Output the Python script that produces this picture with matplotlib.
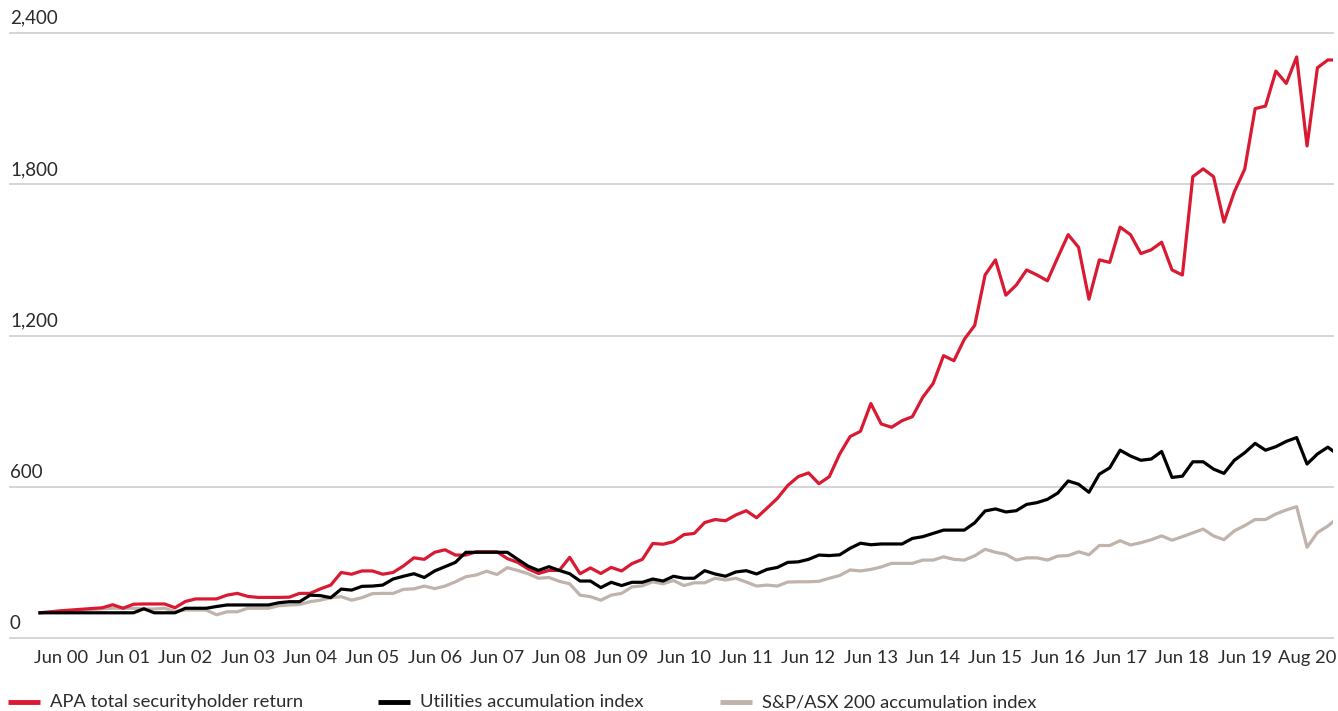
import matplotlib
matplotlib.use("Agg")
import matplotlib.pyplot as plt
from matplotlib.lines import Line2D
import numpy as np

# sample positions (every second period of the 250-period series, plus the last one)
periods = list(range(0, 249, 2)) + [249]

apa = [100, 104, 108, 111, 114, 117, 120, 132, 118, 134,
       135, 135, 135, 120, 145, 155, 155, 155, 170, 177,
       165, 161, 161, 161, 162, 177, 177, 195, 210, 260,
       253, 266, 266, 253, 260, 286, 318, 312, 340, 350,
       329, 329, 342, 342, 342, 315, 300, 274, 256, 268,
       268, 320, 255, 278, 256, 280, 266, 295, 312, 375,
       372, 382, 410, 415, 458, 470, 465, 488, 505, 477,
       515, 554, 605, 640, 655, 612, 640, 730, 799, 820,
       930, 849, 836, 862, 878, 955, 1010, 1120, 1100, 1185,
       1240, 1440, 1500, 1360, 1400, 1460, 1440, 1417, 1510, 1600,
       1550, 1344, 1500, 1490, 1630, 1600, 1525, 1540, 1570, 1460,
       1440, 1830, 1861, 1830, 1650, 1770, 1860, 2100, 2110, 2249,
       2200, 2305, 1952, 2262, 2293, 2293]

utilities = [100, 100, 100, 100, 100, 100, 100, 100, 100, 100,
             116, 100, 100, 100, 118, 118, 118, 125, 131, 131,
             131, 131, 131, 140, 144, 144, 170, 168, 160, 194,
             190, 205, 206, 210, 234, 245, 255, 240, 266, 283,
             300, 340, 340, 340, 340, 340, 312, 285, 268, 283,
             268, 255, 226, 226, 200, 221, 208, 221, 221, 234,
             226, 245, 237, 237, 267, 254, 245, 262, 267, 254,
             272, 280, 300, 302, 312, 329, 327, 330, 356, 376,
             370, 373, 373, 373, 395, 402, 415, 428, 428, 428,
             457, 504, 512, 500, 505, 530, 537, 550, 575, 623,
             610, 578, 650, 675, 745, 722, 705, 710, 740, 637,
             642, 699, 699, 670, 653, 705, 735, 772, 745, 759,
             780, 795, 690, 730, 757, 742]

asx200 = [100, 103, 106, 108, 111, 113, 116, 118, 118, 118,
          115, 115, 118, 105, 111, 111, 111, 92, 104, 104,
          118, 118, 118, 128, 131, 133, 144, 150, 160, 164,
          150, 160, 176, 177, 177, 193, 195, 206, 196, 206,
          223, 243, 250, 265, 252, 279, 268, 255, 237, 240,
          225, 215, 170, 164, 150, 170, 177, 203, 207, 223,
          215, 228, 208, 219, 219, 237, 230, 237, 222, 206,
          210, 206, 222, 223, 223, 225, 237, 248, 270, 266,
          272, 282, 296, 296, 296, 309, 309, 322, 312, 309,
          326, 352, 340, 332, 309, 318, 318, 309, 325, 327,
          342, 330, 367, 367, 386, 369, 378, 390, 405, 388,
          402, 417, 432, 405, 390, 425, 446, 470, 470, 492,
          508, 521, 360, 418, 444, 461]

tick_labels = ["Jun 00", "Jun 01", "Jun 02", "Jun 03", "Jun 04", "Jun 05",
               "Jun 06", "Jun 07", "Jun 08", "Jun 09", "Jun 10", "Jun 11",
               "Jun 12", "Jun 13", "Jun 14", "Jun 15", "Jun 16", "Jun 17",
               "Jun 18", "Jun 19", "Aug 20"]
y_ticks = [0, 600, 1200, 1800, 2400]

series_names = ["APA total securityholder return",
                "Utilities accumulation index",
                "S&P/ASX 200 accumulation index"]
colors = ["#d91a32", "#000000", "#bfb3ab"]

plt.rcParams["font.family"] = ["Lato", "DejaVu Sans"]
text_color = "#2b2b2b"

W, H = 1338, 711
fig = plt.figure(figsize=(W / 100, H / 100), dpi=100)
ax = fig.add_axes([10 / W, (H - 638) / H, 1323 / W, 605 / H])

ax.plot(periods, asx200, color=colors[2], lw=2.3, zorder=3, solid_joinstyle="round")
ax.plot(periods, apa, color=colors[0], lw=2.3, zorder=4, solid_joinstyle="round")
ax.plot(periods, utilities, color=colors[1], lw=2.3, zorder=5, solid_joinstyle="round")

ax.set_xlim(-5.78, 249)
ax.set_ylim(0, 2400)

for v in y_ticks:
    ax.axhline(v, color="#d2d2d2", lw=1.3, zorder=1, clip_on=False)
    ax.annotate(f"{v:,}", xy=(0, v), xycoords=("axes fraction", "data"),
                xytext=(0, 4.5), textcoords="offset points",
                ha="left", va="bottom", fontsize=13.5, color=text_color)

ax.set_yticks([])
ax.set_xticks([4 + 12 * k for k in range(len(tick_labels))])
ax.set_xticklabels(tick_labels, fontsize=13.2, color=text_color)
ax.tick_params(axis="x", length=0, pad=8.5)
for s in ax.spines.values():
    s.set_visible(False)

# legend along the bottom
leg_y = 1 - 702 / H
for (x0, name, c) in zip([8, 378, 720], series_names, colors):
    fig.add_artist(Line2D([x0 / W, (x0 + 32) / W], [leg_y, leg_y],
                          color=c, lw=3.5, solid_capstyle="butt"))
    fig.text((x0 + 42) / W, leg_y, name, ha="left", va="center",
             fontsize=13.2, color=text_color)

fig.savefig("out.png", dpi=100)
